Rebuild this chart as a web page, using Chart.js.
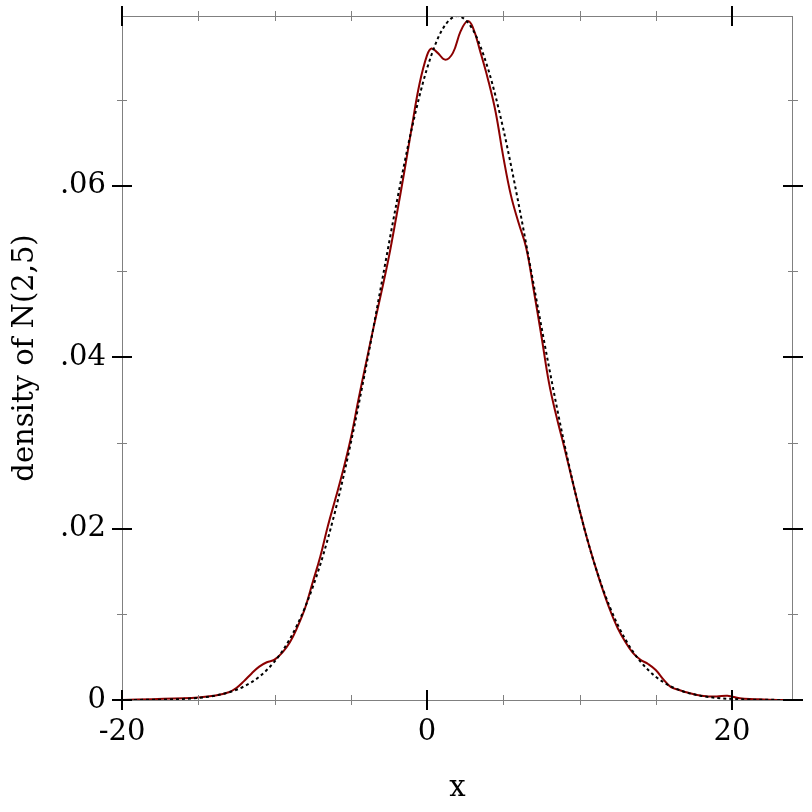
<!DOCTYPE html>
<html>
<head>
<meta charset="utf-8">
<script src="https://cdn.jsdelivr.net/npm/chart.js@4.4.1/dist/chart.umd.min.js"></script>
<style>
  body { margin: 0; background: #fff; }
  canvas { display: block; }
</style>
</head>
<body>
<canvas id="canvas" width="812" height="812"></canvas>
<script>
// density estimate (solid dark red)
var kdeX = [-20, -18, -16, -15, -14, -13, -12.5, -12, -11.5, -11, -10.5, -10, -9.5, -9, -8.5, -8, -7.5, -7, -6.5, -6, -5.5, -5, -4.5, -4, -3.5, -3, -2.5, -2, -1.5, -1, -0.5, 0, 0.3, 0.7, 1.2, 1.7, 2.2, 2.65, 3, 3.5, 4, 4.5, 5, 5.5, 6, 6.5, 7, 7.5, 8, 8.5, 9, 9.5, 10, 10.5, 11, 11.5, 12, 12.5, 13, 13.5, 14, 14.5, 15, 15.5, 16, 16.5, 17, 18, 19, 19.7, 20.5, 21.5, 23, 24];
var kdeY = [0, 0.0001, 0.0002, 0.0003, 0.0005, 0.0009, 0.0014, 0.0022, 0.0031, 0.0039, 0.0044, 0.0047, 0.0055, 0.0067, 0.0085, 0.0107, 0.0137, 0.0167, 0.0203, 0.0235, 0.0268, 0.0305, 0.035, 0.0393, 0.0435, 0.0475, 0.0517, 0.0565, 0.0615, 0.0668, 0.0718, 0.0752, 0.076, 0.0755, 0.0747, 0.0755, 0.078, 0.0792, 0.0785, 0.0756, 0.0724, 0.0686, 0.0634, 0.0589, 0.0557, 0.0528, 0.0478, 0.0425, 0.037, 0.033, 0.0295, 0.0258, 0.0222, 0.0188, 0.0158, 0.013, 0.0105, 0.0084, 0.0068, 0.0055, 0.0047, 0.0042, 0.0035, 0.0024, 0.0015, 0.0012, 0.0009, 0.0005, 0.0004, 0.0005, 0.0002, 0.0001, 0, 0];

// N(2,5) density (black dotted)
var normX = [-20, -19, -18, -17, -16, -15, -14, -13, -12, -11, -10, -9, -8, -7, -6, -5, -4, -3, -2, -1, 0, 1, 2, 3, 4, 5, 6, 7, 8, 9, 10, 11, 12, 13, 14, 15, 16, 17, 18, 19, 20, 21, 22, 23, 24];
var normY = [0.000005, 0.000012, 0.000027, 0.000058, 0.000122, 0.000246, 0.000477, 0.000887, 0.001583, 0.002717, 0.004479, 0.007095, 0.010799, 0.015791, 0.022185, 0.029947, 0.038838, 0.048395, 0.05794, 0.066647, 0.073656, 0.07821, 0.079788, 0.07821, 0.073656, 0.066647, 0.05794, 0.048395, 0.038838, 0.029947, 0.022185, 0.015791, 0.010799, 0.007095, 0.004479, 0.002717, 0.001583, 0.000887, 0.000477, 0.000246, 0.000122, 0.000058, 0.000027, 0.000012, 0.000005];

var xTicks = [-20, 0, 20];
var xTickLabels = ["-20", "0", "20"];
var xMinorTicks = [-15, -10, -5, 5, 10, 15];
var yTicks = [0, 0.02, 0.04, 0.06];
var yTickLabels = ["0", ".02", ".04", ".06"];
var yMinorTicks = [0.01, 0.03, 0.05, 0.07];

let darkRed = "#8b0000";
let axisGray = "#808080";
let serif = "'DejaVu Serif', serif";
let fontSize = 29;

function pts(xs, ys) {
  return xs.map(function (x, i) { return { x: x, y: ys[i] }; });
}

// frame + mirrored tick marks on all four sides
const frameTicks = {
  id: "frameTicks",
  afterDraw(chart) {
    const c = chart.ctx, a = chart.chartArea;
    const sx = chart.scales.x, sy = chart.scales.y;
    c.save();
    c.strokeStyle = axisGray;
    c.lineWidth = 1;
    c.strokeRect(a.left + 0.5, a.top + 0.5, a.right - a.left - 1, a.bottom - a.top);
    function xt(vals, len, color, w) {
      c.strokeStyle = color; c.lineWidth = w;
      vals.forEach(function (v) {
        const p = Math.round(sx.getPixelForValue(v)) + (w % 2 ? 0.5 : 0);
        c.beginPath();
        c.moveTo(p, a.bottom - len); c.lineTo(p, a.bottom + len);
        c.moveTo(p, a.top - len); c.lineTo(p, a.top + len);
        c.stroke();
      });
    }
    function yt(vals, len, color, w) {
      c.strokeStyle = color; c.lineWidth = w;
      vals.forEach(function (v) {
        const p = Math.round(sy.getPixelForValue(v)) + (w % 2 ? 0.5 : 0);
        c.beginPath();
        c.moveTo(a.left - len, p); c.lineTo(a.left + len, p);
        c.moveTo(a.right - len, p); c.lineTo(a.right + len, p);
        c.stroke();
      });
    }
    xt(xMinorTicks, 5, axisGray, 1);
    yt(yMinorTicks, 5, axisGray, 1);
    xt(xTicks, 10, "#000", 2);
    yt(yTicks, 10, "#000", 2);
    c.restore();
  }
};

const ctx = document.getElementById("canvas").getContext("2d");
const myChart = new Chart(ctx, {
  type: "line",
  data: {
    datasets: [
      {
        data: pts(normX, normY),
        borderColor: "#000",
        borderWidth: 2,
        borderDash: [3, 3],
        pointRadius: 0,
        cubicInterpolationMode: "monotone",
      },
      {
        data: pts(kdeX, kdeY),
        borderColor: darkRed,
        borderWidth: 2,
        pointRadius: 0,
        tension: 0.4,
      },
    ],
  },
  options: {
    responsive: false,
    animation: false,
    events: [],
    layout: { padding: { top: 16, right: 19, left: 0, bottom: 0 } },
    plugins: { legend: { display: false }, tooltip: { enabled: false } },
    scales: {
      x: {
        type: "linear",
        min: -20,
        max: 24,
        afterBuildTicks: function (s) { s.ticks = xTicks.map(function (v) { return { value: v }; }); },
        afterFit: function (s) { s.height = 112; s.paddingLeft = 0; s.paddingRight = 0; },
        grid: { display: false, drawTicks: false },
        border: { display: false },
        ticks: {
          padding: 15,
          color: "#000",
          font: { family: serif, size: fontSize },
          maxRotation: 0,
          callback: function (v) { return xTickLabels[xTicks.indexOf(v)]; },
        },
        title: {
          display: true,
          text: "x",
          color: "#000",
          font: { family: serif, size: fontSize },
          padding: { top: 0, bottom: 6 },
        },
      },
      y: {
        type: "linear",
        min: 0,
        max: 0.0798,
        afterBuildTicks: function (s) { s.ticks = yTicks.map(function (v) { return { value: v }; }); },
        afterFit: function (s) { s.width = 122; s.paddingTop = 0; s.paddingBottom = 0; },
        grid: { display: false, drawTicks: false },
        border: { display: false },
        ticks: {
          padding: 16,
          color: "#000",
          font: { family: serif, size: fontSize },
          callback: function (v) { return yTickLabels[yTicks.indexOf(v)]; },
        },
        title: {
          display: true,
          text: "density of N(2,5)",
          color: "#000",
          font: { family: serif, size: fontSize },
          padding: { top: 8, bottom: 0 },
        },
      },
    },
  },
  plugins: [frameTicks],
});
</script>
</body>
</html>
